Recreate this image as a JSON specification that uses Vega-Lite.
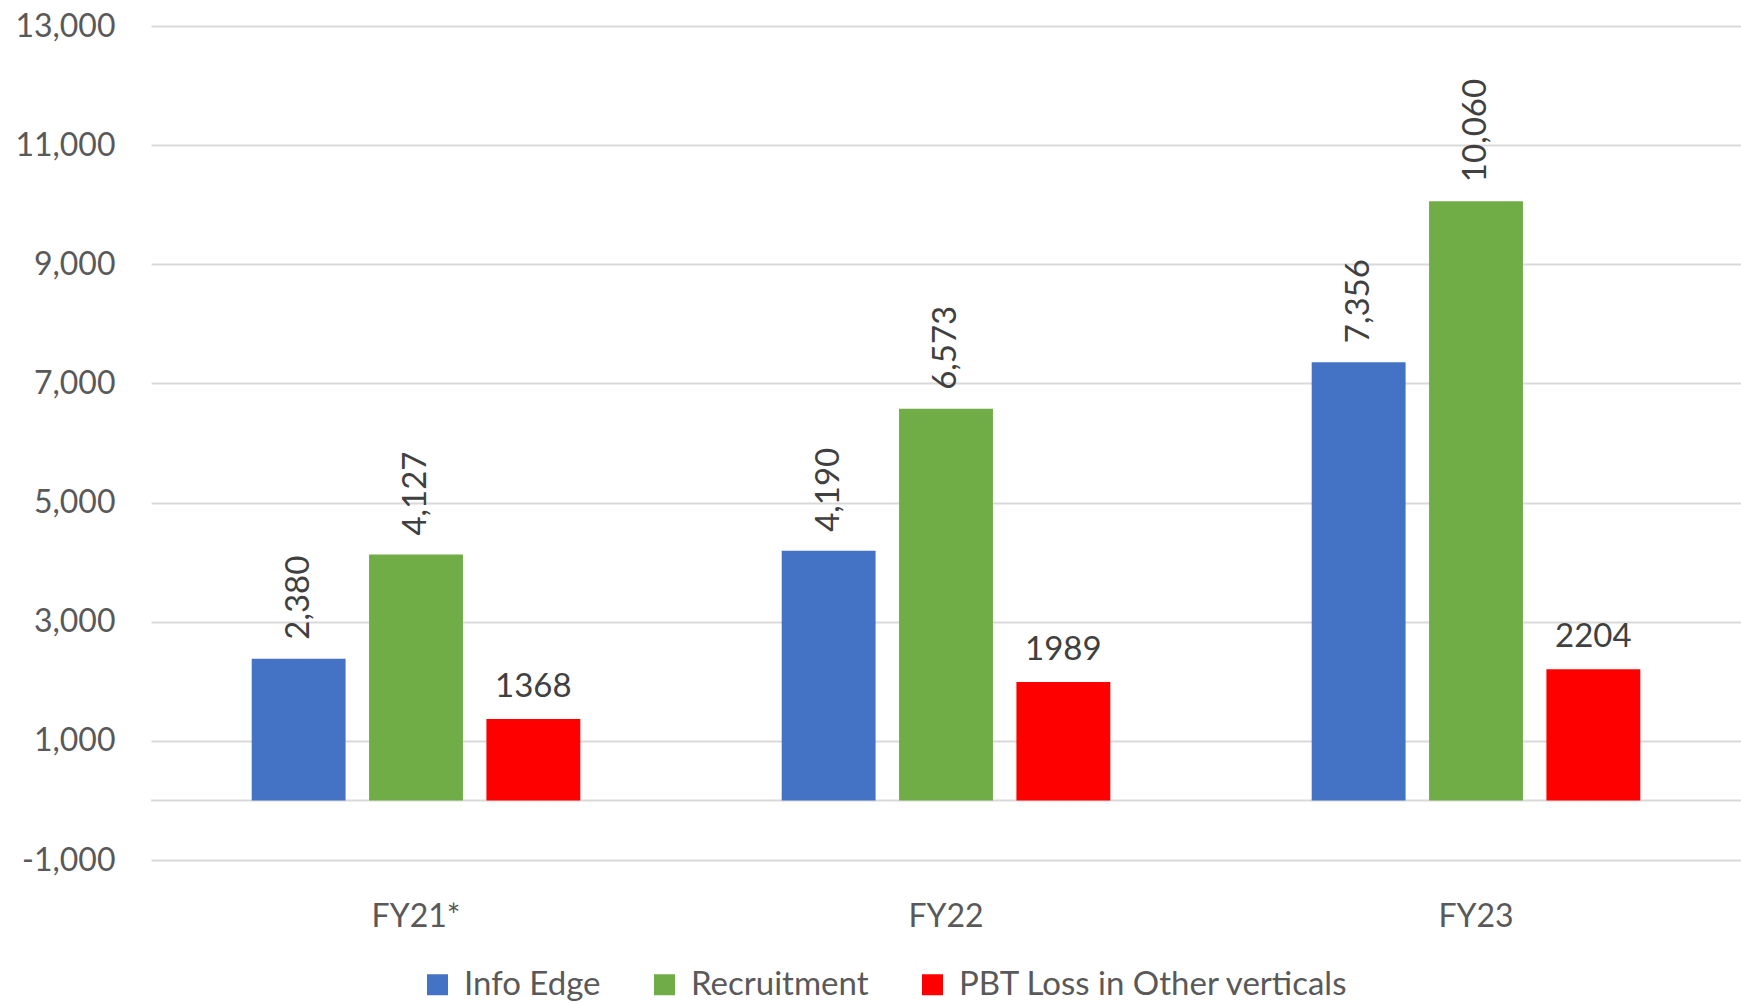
{
  "$schema": "https://vega.github.io/schema/vega-lite/v6.json",
  "width": 1590,
  "height": 834,
  "autosize": {"type": "none"},
  "padding": {"left": 151, "top": 26, "right": 0, "bottom": 143},
  "background": "white",
  "config": {"view": {"stroke": null}, "font": "Lato"},
  "data": {
    "values": [
      {"year": "FY21*", "series": "Info Edge", "value": 2380},
      {"year": "FY21*", "series": "Recruitment", "value": 4127},
      {"year": "FY21*", "series": "PBT Loss in Other verticals", "value": 1368},
      {"year": "FY22", "series": "Info Edge", "value": 4190},
      {"year": "FY22", "series": "Recruitment", "value": 6573},
      {"year": "FY22", "series": "PBT Loss in Other verticals", "value": 1989},
      {"year": "FY23", "series": "Info Edge", "value": 7356},
      {"year": "FY23", "series": "Recruitment", "value": 10060},
      {"year": "FY23", "series": "PBT Loss in Other verticals", "value": 2204}
    ]
  },
  "layer": [
    {
      "data": {"values": [{"zero": 0}]},
      "mark": {"type": "rule", "color": "#d9d9d9", "strokeWidth": 2},
      "encoding": {
        "y": {"field": "zero", "type": "quantitative", "scale": {"domain": [-1000, 13000], "nice": false, "zero": false},
          "axis": {"title": null, "values": [-1000, 1000, 3000, 5000, 7000, 9000, 11000, 13000], "labelExpr": "replace(format(datum.value, ','), '\u2212', '-')", "domain": false, "ticks": false, "labelFontSize": 32, "labelColor": "#595959", "labelPadding": 36, "gridColor": "#d9d9d9", "gridWidth": 2, "labelFont": "Lato"}}
      }
    },
    {
      "mark": {"type": "bar"},
      "encoding": {
        "x": {"field": "year", "type": "nominal", "sort": ["FY21*", "FY22", "FY23"], "scale": {"paddingInner": 0.38, "paddingOuter": 0.19},
          "axis": {"title": null, "labelAngle": 0, "domain": false, "ticks": false, "labelFontSize": 32, "labelColor": "#595959", "labelPadding": 41, "labelFont": "Lato"}},
        "xOffset": {"field": "series", "type": "nominal", "sort": ["Info Edge", "Recruitment", "PBT Loss in Other verticals"], "scale": {"paddingInner": 0.2, "paddingOuter": 0}},
        "y": {"field": "value", "type": "quantitative", "scale": {"domain": [-1000, 13000], "nice": false, "zero": false},
          "axis": {"title": null, "values": [-1000, 1000, 3000, 5000, 7000, 9000, 11000, 13000], "labelExpr": "replace(format(datum.value, ','), '\u2212', '-')", "domain": false, "ticks": false, "labelFontSize": 32, "labelColor": "#595959", "labelPadding": 36, "gridColor": "#d9d9d9", "gridWidth": 2, "labelFont": "Lato"}},
        "y2": {"datum": 0},
        "color": {"field": "series", "type": "nominal",
          "scale": {"domain": ["Info Edge", "Recruitment", "PBT Loss in Other verticals"], "range": ["#4472C4", "#70AD47", "#FF0000"]},
          "legend": {"orient": "none", "legendX": 270, "legendY": 942, "direction": "horizontal", "title": null, "symbolType": "square", "symbolSize": 441, "symbolStrokeWidth": 0, "labelFontSize": 33, "labelColor": "#595959", "labelFont": "Lato", "columnPadding": 47, "labelOffset": 10, "labelLimit": 0}}
      }
    },
    {
      "transform": [{"filter": "datum.series !== 'PBT Loss in Other verticals'"}],
      "mark": {"type": "text", "angle": 270, "align": "left", "baseline": "middle", "dx": 19, "fontSize": 33, "color": "#404040", "font": "Lato"},
      "encoding": {
        "x": {"field": "year", "type": "nominal", "sort": ["FY21*", "FY22", "FY23"]},
        "xOffset": {"field": "series", "type": "nominal", "sort": ["Info Edge", "Recruitment", "PBT Loss in Other verticals"]},
        "y": {"field": "value", "type": "quantitative"},
        "text": {"field": "value", "type": "quantitative", "format": ","}
      }
    },
    {
      "transform": [{"filter": "datum.series === 'PBT Loss in Other verticals'"}],
      "mark": {"type": "text", "align": "center", "baseline": "alphabetic", "dy": -22, "fontSize": 33, "color": "#404040", "font": "Lato"},
      "encoding": {
        "x": {"field": "year", "type": "nominal", "sort": ["FY21*", "FY22", "FY23"]},
        "xOffset": {"field": "series", "type": "nominal", "sort": ["Info Edge", "Recruitment", "PBT Loss in Other verticals"]},
        "y": {"field": "value", "type": "quantitative"},
        "text": {"field": "value", "type": "quantitative", "format": "d"}
      }
    }
  ]
}
